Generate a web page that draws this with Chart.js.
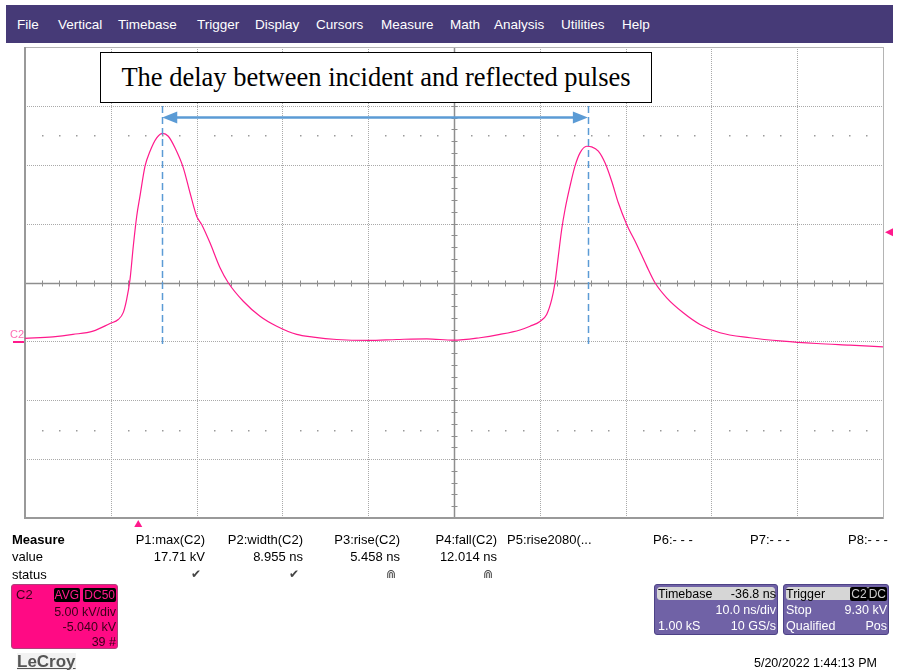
<!DOCTYPE html>
<html lang="en">
<head>
<meta charset="UTF-8" />
<title>LeCroy C2 capture</title>
<script src="https://cdn.jsdelivr.net/npm/chart.js"></script>
<style>
  body { margin: 0; width: 898px; height: 671px; position: relative; background: #fff; overflow: hidden;
         font-family: "Liberation Sans", Arial, sans-serif; }
  canvas { position: absolute; left: 0; top: 0; }
  .lbl { position: absolute; white-space: nowrap; line-height: 1; }
  #menu { position: absolute; left: 6px; top: 5px; width: 887px; height: 38px; background: #463a77; }
  #note { position: absolute; left: 100px; top: 52px; width: 550px; height: 49px; border: 1.5px solid #000; background: #fff;
          font: 26.5px "Liberation Serif", "Times New Roman", serif; display: flex; align-items: center; justify-content: center; }
  .box { position: absolute; border-radius: 3px; box-sizing: border-box; }
  .badge { background: #000; border-radius: 2px; padding: 0 1px; }
</style>
</head>
<body>
<canvas id="scope" width="898" height="671"></canvas>
<div id="menu"></div>
<div id="note">The delay between incident and reflected pulses</div>

<script>
// trace C2 (time in ns, amplitude in kV)
const timeNs = [-13.2, -9.94, -7.61, -5.27, -3.29, -2.33, -1.74, -1.35, -0.96, -0.58,
  -0.18, 0.20, 0.79, 1.37, 2.15, 2.85, 3.50, 4.28, 5.25, 6.03,
  6.81, 7.39, 8.36, 9.53, 10.49, 12.24, 14.19, 16.14, 18.47, 20.40,
  23.13, 26.81, 30.12, 33.62, 36.72, 39.83, 42.16, 44.49, 45.66, 46.82,
  47.60, 48.19, 48.57, 48.96, 49.35, 49.74, 50.32, 50.90, 51.49, 52.27,
  52.85, 53.62, 54.40, 55.18, 55.95, 56.93, 58.09, 59.26, 60.23, 61.59,
  63.52, 65.47, 67.80, 71.30, 75.14, 79.07, 82.95, 86.8];
const voltsKV = [0.29, 0.43, 0.63, 0.91, 1.56, 1.90, 2.50, 3.60, 5.30, 8.12,
  10.67, 12.37, 14.92, 16.19, 17.33, 17.71, 17.46, 16.48, 14.78, 12.66,
  10.67, 9.97, 8.41, 6.29, 5.02, 3.45, 2.18, 1.33, 0.63, 0.40,
  0.20, 0.12, 0.20, 0.26, 0.14, 0.35, 0.63, 1.01, 1.33, 1.73,
  2.33, 3.60, 5.02, 7.28, 9.54, 11.24, 13.22, 14.92, 16.05, 16.61,
  16.56, 16.19, 15.20, 13.64, 11.81, 9.97, 8.27, 6.43, 5.02, 3.74,
  2.47, 1.48, 0.77, 0.35, 0.06, -0.14, -0.28, -0.42];

// scope settings
const timeDiv = 10, timeDelay = 36.8;      // ns/div, centre of screen in ns
const voltDiv = 5, voltOffset = 5.04;      // kV/div, centre of screen in kV
const trigLevel = 9.30;                    // kV
const peakTimes = [2.8, 52.4];             // cursor lines on the two peaks

const menuItems = ['File', 'Vertical', 'Timebase', 'Trigger', 'Display', 'Cursors', 'Measure', 'Math', 'Analysis', 'Utilities', 'Help'];
const menuX = [17, 58, 118, 197, 255, 316, 381, 450, 494, 561, 622];

const measNames = ['P1:max(C2)', 'P2:width(C2)', 'P3:rise(C2)', 'P4:fall(C2)', 'P5:rise2080(...', 'P6:- - -', 'P7:- - -', 'P8:- - -'];
const measValues = ['17.71 kV', '8.955 ns', '5.458 ns', '12.014 ns', '', '', '', ''];
const measStatus = ['\u2714', '\u2714', '\u22D2', '\u22D2', '', '', '', ''];

const xMin = timeDelay - 5 * timeDiv, xMax = timeDelay + 5 * timeDiv;
const yMin = voltOffset - 4 * voltDiv, yMax = voltOffset + 4 * voltDiv;
const pink = '#ff1a8c';

function lbl(text, x, y, o = {}) {
  const d = document.createElement('div');
  d.className = 'lbl';
  const size = o.size || 13;
  if (o.html) d.innerHTML = text; else d.textContent = text;
  d.style.fontSize = size + 'px';
  d.style.top = (y - size / 2) + 'px';
  if (o.align === 'right') d.style.right = (898 - x) + 'px'; else d.style.left = x + 'px';
  if (o.color) d.style.color = o.color;
  if (o.bold) d.style.fontWeight = 'bold';
  if (o.bg) d.style.background = o.bg;
  (o.parent || document.body).appendChild(d);
  return d;
}

function box(x, y, w, h, bg, border) {
  const d = document.createElement('div');
  d.className = 'box';
  Object.assign(d.style, { left: x + 'px', top: y + 'px', width: w + 'px', height: h + 'px', background: bg, border: '1px solid ' + border });
  document.body.appendChild(d);
  return d;
}

// menu bar
menuItems.forEach((m, i) => lbl(m, menuX[i], 25, { color: '#fff', size: 13.5 }));

// measure table
lbl('Measure', 12, 539, { bold: true, size: 13 });
lbl('value', 12, 556, { size: 13 });
lbl('status', 12, 574, { size: 13 });
const measRight = [205, 303, 400, 497];
const measLeft = [507, 653, 750, 848];
measNames.forEach((n, i) => {
  if (i < 4) {
    lbl(n, measRight[i], 539, { align: 'right', size: 13 });
    lbl(measValues[i], measRight[i], 556, { align: 'right', size: 13 });
    lbl(measStatus[i], measRight[i] - 4, 574, { align: 'right', size: 12, color: '#444' });
  } else {
    lbl(n, measLeft[i - 4], 539, { size: 13 });
  }
});

// channel descriptor C2
box(11, 584, 107, 65, '#ff0a84', '#b0407a');
const dark = '#3a0018';
lbl('C2', 16, 594, { color: dark, size: 13 });
lbl('<span class="badge">AVG</span> <span class="badge">DC50</span>', 116, 595,
    { html: true, align: 'right', color: '#ff1a8c', size: 12 });
lbl('5.00 kV/div', 116, 612, { align: 'right', color: dark, size: 12.5 });
lbl('-5.040 kV', 116, 627, { align: 'right', color: dark, size: 12.5 });
lbl('39 #', 116, 642, { align: 'right', color: dark, size: 12.5 });

// timebase / trigger descriptors
box(654, 584, 124, 51, '#7062a6', '#4d4286');
box(657, 587, 118, 13, '#d6d6d6', '#d6d6d6');
lbl('Timebase', 658, 594, { size: 12.5 });
lbl('-36.8 ns', 776, 594, { align: 'right', size: 12.5 });
lbl('10.0 ns/div', 776, 610, { align: 'right', size: 12.5, color: '#fff' });
lbl('1.00 kS', 658, 626, { size: 12.5, color: '#fff' });
lbl('10 GS/s', 776, 626, { align: 'right', size: 12.5, color: '#fff' });

box(783, 584, 106, 51, '#7062a6', '#4d4286');
box(786, 587, 100, 13, '#d6d6d6', '#d6d6d6');
lbl('Trigger', 786, 594, { size: 12.5 });
lbl('<span class="badge">C2</span><span class="badge">DC</span>', 887, 594,
    { html: true, align: 'right', color: '#ccc', size: 12 });
lbl('Stop', 786, 610, { size: 12.5, color: '#fff' });
lbl('9.30 kV', 887, 610, { align: 'right', size: 12.5, color: '#fff' });
lbl('Qualified', 786, 626, { size: 12.5, color: '#fff' });
lbl('Pos', 887, 626, { align: 'right', size: 12.5, color: '#fff' });

lbl('5/20/2022 1:44:13 PM', 877, 663, { align: 'right', size: 12.5 });
const logo = lbl('LeCroy', 17, 661, { size: 17, color: '#555', bold: true, bg: '#f2f2f2' });
logo.style.textDecoration = 'underline';

// grid, axes and cursors drawn with the scales
const scopeScreen = {
  id: 'scopeScreen',
  beforeDatasetsDraw(chart) {
    const { ctx, chartArea: a, scales: { x, y } } = chart;
    const px = v => Math.round(x.getPixelForValue(v)) + 0.5;
    const py = v => Math.round(y.getPixelForValue(v)) + 0.5;
    ctx.save();
    ctx.lineWidth = 1;
    ctx.strokeStyle = '#a9a9a9';
    ctx.setLineDash([1, 1]);
    for (let i = 1; i < 10; i++) {
      if (i === 5) continue;
      const X = px(xMin + i * timeDiv);
      ctx.beginPath(); ctx.moveTo(X, a.top); ctx.lineTo(X, a.bottom); ctx.stroke();
    }
    for (let j = 1; j < 8; j++) {
      if (j === 4) continue;
      const Y = py(yMin + j * voltDiv);
      ctx.beginPath(); ctx.moveTo(a.left, Y); ctx.lineTo(a.right, Y); ctx.stroke();
    }
    ctx.setLineDash([]);
    // centre axes with minor ticks
    ctx.strokeStyle = '#8e8e8e';
    ctx.lineWidth = 1.5;
    const cx = px(timeDelay), cy = py(voltOffset);
    ctx.beginPath(); ctx.moveTo(a.left, cy); ctx.lineTo(a.right, cy); ctx.stroke();
    ctx.beginPath(); ctx.moveTo(cx, a.top); ctx.lineTo(cx, a.bottom); ctx.stroke();
    ctx.lineWidth = 1;
    for (let k = 1; k < 50; k++) {
      const X = px(xMin + k * timeDiv / 5);
      ctx.beginPath(); ctx.moveTo(X, cy - 3); ctx.lineTo(X, cy + 3); ctx.stroke();
    }
    for (let k = 1; k < 40; k++) {
      const Y = py(yMin + k * voltDiv / 5);
      ctx.beginPath(); ctx.moveTo(cx - 3, Y); ctx.lineTo(cx + 3, Y); ctx.stroke();
    }
    // dotted rows at +/- 2.5 div
    ctx.fillStyle = '#9a9a9a';
    [voltOffset + 2.5 * voltDiv, voltOffset - 2.5 * voltDiv].forEach(v => {
      const Y = Math.round(y.getPixelForValue(v));
      for (let k = 1; k < 50; k++) {
        if (k % 5 === 0) continue;
        const X = Math.round(x.getPixelForValue(xMin + k * timeDiv / 5));
        ctx.fillRect(X, Y, 1.5, 1.5);
      }
    });
    // frame
    ctx.strokeStyle = '#b4b4b4';
    ctx.strokeRect(a.left + 0.5, a.top + 0.5, a.width, a.height);
    ctx.strokeStyle = '#999';
    ctx.lineWidth = 2;
    ctx.beginPath(); ctx.moveTo(a.left, a.top); ctx.lineTo(a.left, a.bottom); ctx.lineTo(a.right, a.bottom); ctx.stroke();
    ctx.restore();
  },
  afterDatasetsDraw(chart) {
    const { ctx, chartArea: a, scales: { x, y } } = chart;
    ctx.save();
    const blue = '#5b9bd5';
    // cursor lines on the peaks
    ctx.strokeStyle = blue;
    ctx.lineWidth = 1.5;
    ctx.setLineDash([7, 4]);
    peakTimes.forEach(t => {
      const X = Math.round(x.getPixelForValue(t)) + 0.5;
      ctx.beginPath(); ctx.moveTo(X, y.getPixelForValue(yMax - voltDiv)); ctx.lineTo(X, y.getPixelForValue(-0.5)); ctx.stroke();
    });
    ctx.setLineDash([]);
    // double arrow between them
    const x1 = x.getPixelForValue(peakTimes[0]), x2 = x.getPixelForValue(peakTimes[1]);
    const ay = y.getPixelForValue(19.05);
    ctx.lineWidth = 2.5;
    ctx.beginPath(); ctx.moveTo(x1 + 12, ay); ctx.lineTo(x2 - 12, ay); ctx.stroke();
    ctx.fillStyle = blue;
    ctx.beginPath(); ctx.moveTo(x1, ay); ctx.lineTo(x1 + 15, ay - 6); ctx.lineTo(x1 + 15, ay + 6); ctx.closePath(); ctx.fill();
    ctx.beginPath(); ctx.moveTo(x2, ay); ctx.lineTo(x2 - 15, ay - 6); ctx.lineTo(x2 - 15, ay + 6); ctx.closePath(); ctx.fill();
    // trigger level marker (right), trigger time marker (bottom)
    ctx.fillStyle = pink;
    const ty = y.getPixelForValue(trigLevel);
    ctx.beginPath(); ctx.moveTo(a.right + 2, ty); ctx.lineTo(a.right + 10, ty - 4); ctx.lineTo(a.right + 10, ty + 4); ctx.closePath(); ctx.fill();
    const tx = x.getPixelForValue(0);
    ctx.beginPath(); ctx.moveTo(tx, a.bottom + 2); ctx.lineTo(tx - 4, a.bottom + 9); ctx.lineTo(tx + 4, a.bottom + 9); ctx.closePath(); ctx.fill();
    // channel ground marker
    const gy = Math.round(y.getPixelForValue(0));
    ctx.fillRect(13, gy - 1, 11, 2);
    ctx.fillStyle = '#ff6fb5';
    ctx.font = '11px "Liberation Sans", Arial, sans-serif';
    ctx.textBaseline = 'bottom';
    ctx.fillText('C2', 10, gy - 2);
    ctx.restore();
  }
};

new Chart(document.getElementById('scope'), {
  type: 'line',
  data: {
    datasets: [{
      label: 'C2',
      data: timeNs.map((t, i) => ({ x: t, y: voltsKV[i] })),
      borderColor: pink,
      borderWidth: 1.2,
      pointRadius: 0,
      cubicInterpolationMode: 'monotone'
    }]
  },
  options: {
    responsive: false,
    animation: false,
    layout: { padding: { left: 25, top: 47, right: 15, bottom: 153 } },
    plugins: { legend: { display: false }, tooltip: { enabled: false } },
    scales: {
      x: { type: 'linear', min: xMin, max: xMax, display: false },
      y: { min: yMin, max: yMax, display: false }
    }
  },
  plugins: [scopeScreen]
});
</script>
</body>
</html>
